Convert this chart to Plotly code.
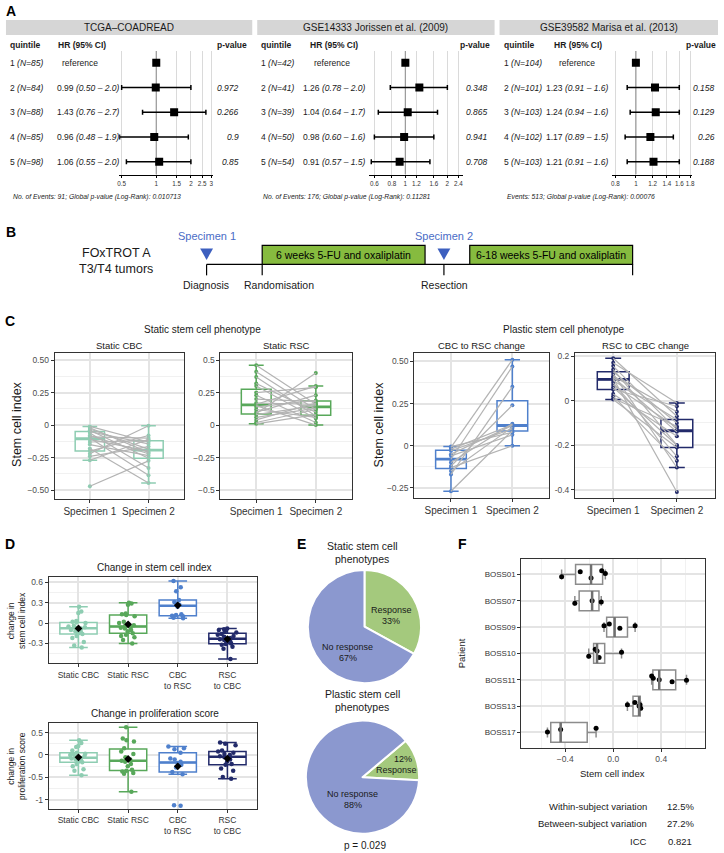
import numpy as np
import plotly.graph_objects as go

W, H = 724, 853
FONT = "Liberation Sans, Arial, Helvetica, sans-serif"
TXT = "#1a1a1a"
AXT = "#4d4d4d"

# ------------------------------------------------------------------ data
# Panel A (forest plots)
A_titles = ["TCGA–COADREAD", "GSE14333 Jorissen et al. (2009)", "GSE39582 Marisa et al. (2013)"]
A_quintile = [1, 2, 3, 4, 5]
tcga_n = [85, 84, 88, 85, 98]
tcga_hr = [1.0, 0.99, 1.43, 0.96, 1.06]
tcga_lo = [None, 0.50, 0.76, 0.48, 0.55]
tcga_hi = [None, 2.0, 2.7, 1.9, 2.0]
tcga_p = ["", "0.972", "0.266", "0.9", "0.85"]
g14_n = [42, 41, 39, 50, 54]
g14_hr = [1.0, 1.26, 1.04, 0.98, 0.91]
g14_lo = [None, 0.78, 0.64, 0.60, 0.57]
g14_hi = [None, 2.0, 1.7, 1.6, 1.5]
g14_p = ["", "0.348", "0.865", "0.941", "0.708"]
g39_n = [104, 101, 103, 102, 103]
g39_hr = [1.0, 1.23, 1.24, 1.17, 1.21]
g39_lo = [None, 0.91, 0.94, 0.89, 0.91]
g39_hi = [None, 1.6, 1.6, 1.5, 1.6]
g39_p = ["", "0.158", "0.129", "0.26", "0.188"]
A_ticks = [[0.5, 1, 1.5, 2, 2.5, 3], [0.6, 0.8, 1, 1.2, 1.6, 2, 2.4], [0.8, 1, 1.2, 1.4, 1.6, 1.8]]
A_footnotes = ["No. of Events: 91; Global p-value (Log-Rank): 0.010713",
               "No. of Events: 176; Global p-value (Log-Rank): 0.11281",
               "Events: 513; Global p-value (Log-Rank): 0.00076"]
REF_HR = 1.0

# Panel B
B_boxes = ["6 weeks 5-FU and oxaliplatin", "6-18 weeks 5-FU and oxaliplatin"]
B_events = ["Diagnosis", "Randomisation", "Resection"]
B_specimens = ["Specimen 1", "Specimen 2"]

# Panel C (paired stem cell index)
C_cats = ["Specimen 1", "Specimen 2"]
scbc_s1 = [-0.01, -0.02, -0.03, -0.04, -0.05, -0.06, -0.08, -0.09, -0.10, -0.11, -0.13, -0.15, -0.18, -0.20, -0.22, -0.24, -0.27, -0.47]
scbc_s2 = [-0.13, -0.21, -0.185, -0.255, -0.145, -0.33, -0.22, -0.10, -0.385, -0.20, -0.12, -0.235, -0.445, -0.08, -0.005, -0.165, -0.11, -0.275]
srsc_s1 = [0.46, 0.41, 0.37, 0.32, 0.30, 0.25, 0.23, 0.20, 0.17, 0.16, 0.15, 0.14, 0.12, 0.10, 0.09, 0.08, 0.06, 0.04, 0.02, 0.01]
srsc_s2 = [0.16, 0.12, 0.07, 0.10, 0.05, 0.29, 0.02, 0.18, 0.16, 0.30, 0.0, 0.19, 0.06, 0.23, 0.40, 0.15, 0.13, 0.17, 0.12, 0.08]
c2r_s1 = [-0.005, -0.01, -0.02, -0.03, -0.05, -0.06, -0.08, -0.10, -0.12, -0.13, -0.15, -0.17, -0.27]
c2r_s2 = [0.08, 0.51, 0.125, 0.10, 0.12, 0.065, 0.47, 0.13, 0.24, 0.0, 0.11, 0.35, 0.09]
r2c_s1 = [0.19, 0.17, 0.155, 0.14, 0.13, 0.12, 0.11, 0.105, 0.10, 0.09, 0.08, 0.07, 0.06, 0.05, 0.03, 0.02, 0.01, 0.005]
r2c_s2 = [-0.07, -0.01, -0.13, -0.2, -0.1, -0.3, -0.05, -0.14, -0.41, -0.085, -0.25, -0.12, -0.2, -0.025, -0.16, -0.27, -0.115, -0.21]
C_titles = ["Static CBC", "Static RSC", "CBC to RSC change", "RSC to CBC change"]
C_ticks = [[-0.5, -0.25, 0, 0.25, 0.5], [-0.5, -0.25, 0, 0.25, 0.5], [-0.25, 0, 0.25, 0.5], [-0.4, -0.2, 0, 0.2]]
C_ticktext = [["−0.50", "−0.25", "0", "0.25", "0.50"], ["−0.5", "−0.25", "0", "0.25", "0.5"],
              ["−0.25", "0", "0.25", "0.50"], ["-0.4", "-0.2", "0", "0.2"]]

# Panel D (changes)
D_cats = ["Static CBC", "Static RSC", "CBC to RSC", "RSC to CBC"]
D_ticktext = ["Static CBC", "Static RSC", "CBC<br>to RSC", "RSC<br>to CBC"]
dsci_scbc = [0.24, 0.17, 0.15, 0.03, 0.02, 0.01, 0.00, -0.04, -0.05, -0.06, -0.07, -0.08, -0.10, -0.12, -0.13, -0.15, -0.16, -0.19, -0.22, -0.28, -0.33, -0.36]
dsci_srsc = [0.30, 0.29, 0.27, 0.14, 0.13, 0.12, 0.10, 0.02, 0.00, -0.03, -0.04, -0.06, -0.07, -0.08, -0.10, -0.12, -0.15, -0.17, -0.19, -0.21, -0.25, -0.30]
dsci_c2r = [0.62, 0.53, 0.47, 0.34, 0.31, 0.29, 0.27, 0.24, 0.13, 0.12, 0.11, 0.10, 0.08, 0.07]
dsci_r2c = [-0.08, -0.09, -0.10, -0.12, -0.14, -0.16, -0.17, -0.19, -0.20, -0.22, -0.24, -0.25, -0.27, -0.28, -0.30, -0.31, -0.32, -0.35, -0.38, -0.53]
dpro_scbc = [0.33, 0.27, 0.20, 0.18, 0.10, 0.05, 0.03, 0.02, 0.00, -0.02, -0.05, -0.07, -0.08, -0.10, -0.12, -0.15, -0.16, -0.20, -0.25, -0.32, -0.35, -0.45]
dpro_srsc = [0.62, 0.37, 0.33, 0.30, 0.15, 0.08, 0.02, -0.05, -0.10, -0.13, -0.15, -0.20, -0.25, -0.33, -0.35, -0.37, -0.40, -0.42, -0.82]
dpro_c2r = [0.19, 0.15, 0.13, 0.05, -0.08, -0.10, -0.15, -0.18, -0.22, -0.28, -0.38, -0.43, -1.12, -1.13]
dpro_r2c = [0.28, 0.25, 0.22, 0.10, 0.08, 0.05, 0.02, 0.00, -0.03, -0.05, -0.10, -0.15, -0.20, -0.22, -0.30, -0.35, -0.49, -0.53]
D_titles = ["Change in stem cell index", "Change in proliferation score"]
D_ytitles = ["change in<br>stem cell index", "change in<br>proliferation score"]
D_ticks = [[-0.3, 0, 0.3, 0.6], [-1, -0.5, 0, 0.5]]
D_ticktext_y = [["-0.3", "0", "0.3", "0.6"], ["-1", "-0.5", "0", "0.5"]]

# Panel E (pies)
E_labels = ["Response", "No response"]
E_static = [33, 67]
E_plastic = [12, 88]
E_p = "p = 0.029"

# Panel F
F_patients = ["BOSS01", "BOSS07", "BOSS09", "BOSS10", "BOSS11", "BOSS13", "BOSS17"]
F_values = [
    [-0.43, -0.275, -0.185, -0.096, -0.066],
    [-0.32, -0.176, -0.10],
    [-0.077, -0.033, 0.055, 0.182],
    [-0.204, -0.15, -0.135, -0.118, 0.069],
    [0.32, 0.333, 0.383, 0.49, 0.61],
    [0.118, 0.18, 0.215, 0.223, 0.229],
    [-0.548, -0.438, -0.143],
]
F_ticks = [-0.4, 0.0, 0.4]
F_ticktext = ["−0.4", "0.0", "0.4"]
F_stats = [("Within-subject variation", "12.5%"), ("Between-subject variation", "27.2%"), ("ICC", "0.821")]

# colours
COL_SCBC = "#8ecdb2"
COL_SRSC = "#58a85a"
COL_C2R = "#4f80cc"
COL_R2C = "#222a6a"
COL_LINK = "#b3b3b3"
GREEN_B = "#86bb3f"
BLUE_B = "#3d5fbf"
PIE_GREEN = "#a4c97d"
PIE_BLUE = "#8b98cf"

# ------------------------------------------------------------------ helpers
def X(p): return p / W
def Y(p): return 1 - p / H
def DX(a, b): return [a / W, b / W]
def DY(top, bot): return [1 - bot / H, 1 - top / H]

def names(i):
    s = "" if i == 1 else str(i)
    return "x" + s, "y" + s, "xaxis" + s, "yaxis" + s

fig = go.Figure()
ann, shapes, lay = [], [], {}

def txt(px, py, text, size=9, color=TXT, xa="center", ya="middle", angle=0):
    ann.append(dict(x=X(px), y=Y(py), xref="paper", yref="paper", text=text, showarrow=False,
                    xanchor=xa, yanchor=ya, textangle=angle,
                    font=dict(size=size, color=color, family=FONT)))

def letter(px, py, s):
    txt(px, py, f"<b>{s}</b>", size=14, color="black")

def frame_axis(dom, **kw):
    d = dict(domain=dom, showline=True, mirror=True, linecolor="#333333", linewidth=1,
             ticks="outside", ticklen=3, tickcolor="#333333", tickwidth=1,
             showgrid=True, gridcolor="#e4e4e4", gridwidth=1.6, zeroline=False,
             tickfont=dict(size=8.5, color=AXT, family=FONT), fixedrange=True)
    d.update(kw)
    return d

def median_trace(xa, ya, pos, vals, half, color, width=2.8, horizontal=False):
    m = float(np.median(vals))
    if horizontal:
        xs, ys = [m, m], [pos - half, pos + half]
    else:
        xs, ys = [pos - half, pos + half], [m, m]
    fig.add_trace(go.Scatter(x=xs, y=ys, mode="lines", xaxis=xa, yaxis=ya,
                             line=dict(color=color, width=width), showlegend=False, hoverinfo="skip"))

MINOR = dict(showgrid=True, gridcolor="#f1f1f1", gridwidth=0.9)

# ------------------------------------------------------------------ Panel A
letter(9, 9, "A")
A_sets = [
    dict(n=tcga_n, hr=tcga_hr, lo=tcga_lo, hi=tcga_hi, p=tcga_p),
    dict(n=g14_n, hr=g14_hr, lo=g14_lo, hi=g14_hi, p=g14_p),
    dict(n=g39_n, hr=g39_hr, lo=g39_lo, hi=g39_hi, p=g39_p),
]
A_geom = [
    dict(strip=(4, 252), q=6, hr=53, hrh=54, ref=79, pv=241, ph=249, foot=9, dom=(118, 212.5), rng=(0.476, 3.115)),
    dict(strip=(257, 496), q=259, hr=301, hrh=308, ref=332, pv=491, ph=493, foot=261, dom=(370, 464), rng=(0.553, 2.58)),
    dict(strip=(501, 721), q=503, hr=546, hrh=554, ref=579, pv=720, ph=721, foot=507, dom=(614, 695), rng=(0.77, 1.84)),
]
Y_TOP, Y_BOT = 0.515, 5.525
for i, (ds, g, title, ticks, foot) in enumerate(zip(A_sets, A_geom, A_titles, A_ticks, A_footnotes), start=1):
    xa, ya, xk, yk = names(i)
    fig.add_trace(go.Scatter(x=[REF_HR, REF_HR], y=[Y_TOP, Y_BOT], mode="lines", xaxis=xa, yaxis=ya,
                             line=dict(color="#9a9a9a", width=1.2), showlegend=False, hoverinfo="skip"))
    plus = [(h - r) if h is not None else 0 for r, h in zip(ds["hr"], ds["hi"])]
    minus = [(r - l) if l is not None else 0 for r, l in zip(ds["hr"], ds["lo"])]
    fig.add_trace(go.Scatter(
        x=ds["hr"], y=A_quintile, mode="markers", xaxis=xa, yaxis=ya,
        marker=dict(symbol="square", size=8, color="black"),
        error_x=dict(type="data", symmetric=False, array=plus, arrayminus=minus,
                     color="black", thickness=1.5, width=2.5),
        showlegend=False, hoverinfo="skip"))
    lay[xk] = dict(domain=DX(*g["dom"]), anchor=ya, type="log",
                   range=[np.log10(g["rng"][0]), np.log10(g["rng"][1])],
                   tickmode="array", tickvals=ticks, ticktext=[f"{v:g}" for v in ticks], tickangle=0,
                   showgrid=True, gridcolor="#dadada", gridwidth=1, zeroline=False,
                   showline=True, linecolor="black", linewidth=0.8, ticks="outside",
                   ticklen=3, tickcolor="black", tickwidth=0.8,
                   tickfont=dict(size=6.3, color="#333333", family=FONT), fixedrange=True)
    lay[yk] = dict(domain=DY(49, 173), anchor=xa, range=[Y_BOT, Y_TOP], visible=False, fixedrange=True)
    shapes.append(dict(type="rect", xref="paper", yref="paper", x0=X(g["strip"][0]), x1=X(g["strip"][1]),
                       y0=Y(33), y1=Y(18), fillcolor="#d6d6d6", line=dict(width=0), layer="below"))
    txt((g["strip"][0] + g["strip"][1]) / 2, 25.5, title, size=10, color=TXT)
    txt(g["q"], 43, "<b>quintile</b>", size=8.5, xa="left")
    txt(g["hrh"], 43, "<b>HR (95% CI)</b>", size=8.5, xa="left")
    txt(g["ph"], 43, "<b>p-value</b>", size=8.5, xa="right")
    for q, n, hr, lo, hi, p in zip(A_quintile, ds["n"], ds["hr"], ds["lo"], ds["hi"], ds["p"]):
        ann.append(dict(x=X(g["q"]), y=q, xref="paper", yref=ya, showarrow=False, xanchor="left",
                        text=f"{q} <i>(N={n})</i>", font=dict(size=8.5, color=TXT, family=FONT)))
        if lo is None:
            ann.append(dict(x=X(g["ref"]), y=q, xref="paper", yref=ya, showarrow=False, xanchor="center",
                            text="reference", font=dict(size=8.5, color=TXT, family=FONT)))
        else:
            ann.append(dict(x=X(g["hr"]), y=q, xref="paper", yref=ya, showarrow=False, xanchor="left",
                            text=f"{hr:.2f} <i>({lo:.2f} – {hi:.1f})</i>",
                            font=dict(size=8.5, color=TXT, family=FONT)))
        if p:
            ann.append(dict(x=X(g["pv"]), y=q, xref="paper", yref=ya, showarrow=False, xanchor="right",
                            text=f"<i>{p}</i>", font=dict(size=8.5, color=TXT, family=FONT)))
    txt(g["foot"], 195, f"<i>{foot}</i>", size=6.8, xa="left")

# ------------------------------------------------------------------ Panel B
letter(9, 231, "B")
txt(115, 252, "FOxTROT A", size=12.5)
txt(115, 268, "T3/T4 tumors", size=12.5)
B_spec_x = [206, 445]
B_tick_x = [206, 262, 445, 635]
B_box_x = [(262, 426), (471, 635)]
shapes.append(dict(type="line", xref="paper", yref="paper", x0=X(206), x1=X(635), y0=Y(263), y1=Y(263),
                   line=dict(color="black", width=1.2)))
for tx in B_tick_x:
    shapes.append(dict(type="line", xref="paper", yref="paper", x0=X(tx), x1=X(tx), y0=Y(263), y1=Y(274),
                       line=dict(color="black", width=1.2)))
for (x0, x1), lab in zip(B_box_x, B_boxes):
    shapes.append(dict(type="rect", xref="paper", yref="paper", x0=X(x0), x1=X(x1), y0=Y(263), y1=Y(244),
                       fillcolor=GREEN_B, line=dict(color="black", width=1.2)))
    txt((x0 + x1) / 2, 253.5, lab, size=10.5, color="black")
for sx, lab in zip(B_spec_x, B_specimens):
    shapes.append(dict(type="path", xref="paper", yref="paper",
                       path=f"M {X(sx-6.5):.5f},{Y(247):.5f} L {X(sx+6.5):.5f},{Y(247):.5f} L {X(sx):.5f},{Y(258.5):.5f} Z",
                       fillcolor=BLUE_B, line=dict(width=0)))
    txt(sx, 235, lab, size=11, color="#4a6cc6")
txt(205, 284, B_events[0], size=10.5)
txt(279, 284, B_events[1], size=10.5)
txt(446, 284, B_events[2], size=10.5)

# ------------------------------------------------------------------ Panel C
letter(8, 320, "C")
txt(202, 328, "Static stem cell phenotype", size=10)
txt(566, 328, "Plastic stem cell phenotype", size=10)
C_geom = [
    dict(xd=(53, 183), yd=(352, 498), yr=(-0.567, 0.553), minor=[-0.375, -0.125, 0.125, 0.375]),
    dict(xd=(220, 352), yd=(352, 498), yr=(-0.567, 0.553), minor=[-0.375, -0.125, 0.125, 0.375]),
    dict(xd=(415, 551), yd=(352, 497), yr=(-0.309, 0.549), minor=[-0.125, 0.125, 0.375]),
    dict(xd=(577, 718), yd=(352, 497), yr=(-0.436, 0.213), minor=[-0.3, -0.1, 0.1]),
]
C_data = [(scbc_s1, scbc_s2, COL_SCBC), (srsc_s1, srsc_s2, COL_SRSC),
          (c2r_s1, c2r_s2, COL_C2R), (r2c_s1, r2c_s2, COL_R2C)]
C_pos = list(range(len(C_cats)))
for j, ((s1, s2, col), g, title, tv, tt) in enumerate(zip(C_data, C_geom, C_titles, C_ticks, C_ticktext)):
    i = 4 + j
    xa, ya, xk, yk = names(i)
    fig.add_trace(go.Box(x=[C_pos[0]] * len(s1) + [C_pos[1]] * len(s2), y=s1 + s2,
                         xaxis=xa, yaxis=ya, boxpoints="all", jitter=0, pointpos=0, width=0.5,
                         quartilemethod="linear", fillcolor="white",
                         line=dict(color=col, width=1.5), marker=dict(color=col, size=4),
                         showlegend=False, hoverinfo="skip"))
    for k, vals in zip(C_pos, [s1, s2]):
        median_trace(xa, ya, k, vals, 0.25, col)
    lx, ly = [], []
    for a, b in zip(s1, s2):
        lx += [C_pos[0], C_pos[1], None]
        ly += [a, b, None]
    fig.add_trace(go.Scatter(x=lx, y=ly, mode="lines", xaxis=xa, yaxis=ya,
                             line=dict(color=COL_LINK, width=1.2), showlegend=False, hoverinfo="skip"))
    lay[xk] = frame_axis(DX(*g["xd"]), anchor=ya, range=[-0.6, 1.6], tickmode="array",
                         tickvals=C_pos, ticktext=C_cats,
                         tickfont=dict(size=10, color="#333333", family=FONT))
    lay[yk] = frame_axis(DY(*g["yd"]), anchor=xa, range=list(g["yr"]), tickmode="array",
                         tickvals=tv, ticktext=tt, minor=dict(tickvals=g["minor"], **MINOR))
    txt((g["xd"][0] + g["xd"][1]) / 2, 344, title, size=9.5)
txt(15, 423, "Stem cell index", size=12.5, angle=-90)
txt(380, 423, "Stem cell index", size=12.5, angle=-90)

# ------------------------------------------------------------------ Panel D
letter(8, 543, "D")
D_sets = [[dsci_scbc, dsci_srsc, dsci_c2r, dsci_r2c], [dpro_scbc, dpro_srsc, dpro_c2r, dpro_r2c]]
D_cols = [COL_SCBC, COL_SRSC, COL_C2R, COL_R2C]
D_pos = list(range(len(D_cats)))
D_geom = [dict(yd=(576, 663), yr=(-0.595, 0.685), minor=[-0.45, -0.15, 0.15, 0.45], title_y=567),
          dict(yd=(723, 809), yr=(-1.207, 0.707), minor=[-0.75, -0.25, 0.25], title_y=713)]
for j, (sets, g, title, ytitle, tv, tt) in enumerate(zip(D_sets, D_geom, D_titles, D_ytitles, D_ticks, D_ticktext_y)):
    i = 8 + j
    xa, ya, xk, yk = names(i)
    for k, vals, col in zip(D_pos, sets, D_cols):
        fig.add_trace(go.Box(x=[k] * len(vals), y=vals, xaxis=xa, yaxis=ya, boxpoints="all",
                             jitter=0.55, pointpos=0, width=0.75, quartilemethod="linear",
                             fillcolor="white", line=dict(color=col, width=1.5),
                             marker=dict(color=col, size=4.5), showlegend=False, hoverinfo="skip"))
        median_trace(xa, ya, k, vals, 0.375, col, width=2.5)
    fig.add_trace(go.Scatter(x=D_pos, y=[float(np.mean(v)) for v in sets], mode="markers",
                             xaxis=xa, yaxis=ya, marker=dict(symbol="diamond", size=6, color="black"),
                             showlegend=False, hoverinfo="skip"))
    lay[xk] = frame_axis(DX(47, 257), anchor=ya, range=[-0.6, 3.6], tickmode="array",
                         tickvals=D_pos, ticktext=D_ticktext,
                         tickfont=dict(size=8.5, color="#333333", family=FONT))
    lay[yk] = frame_axis(DY(*g["yd"]), anchor=xa, range=list(g["yr"]), tickmode="array",
                         tickvals=tv, ticktext=tt, minor=dict(tickvals=g["minor"], **MINOR))
    txt(154, g["title_y"], title, size=10)
    txt(14, (g["yd"][0] + g["yd"][1]) / 2, ytitle, size=8.5, angle=-90)

# ------------------------------------------------------------------ Panel E
letter(302, 543, "E")
txt(363, 545, "Static stem cell", size=10.5)
txt(363, 558, "phenotypes", size=10.5)
txt(363, 694, "Plastic stem cell", size=10.5)
txt(363, 707, "phenotypes", size=10.5)
fig.add_trace(go.Pie(values=E_static, labels=E_labels, sort=False, direction="clockwise", rotation=0,
                     marker=dict(colors=[PIE_GREEN, PIE_BLUE], line=dict(color="white", width=2)),
                     textinfo="none", hoverinfo="skip", showlegend=False,
                     domain=dict(x=DX(308, 422), y=DY(569, 683))))
fig.add_trace(go.Pie(values=E_plastic, labels=E_labels, sort=False, direction="clockwise", rotation=50,
                     marker=dict(colors=[PIE_GREEN, PIE_BLUE], line=dict(color="white", width=2)),
                     textinfo="none", hoverinfo="skip", showlegend=False,
                     domain=dict(x=DX(306, 420), y=DY(720, 834))))
txt(392, 609, E_labels[0], size=9)
txt(392, 620, f"{E_static[0]}%", size=9)
txt(348, 647, E_labels[1], size=9)
txt(348, 658, f"{E_static[1]}%", size=9)
txt(404, 759, f"{E_plastic[0]}%", size=9)
txt(397, 770, E_labels[0], size=9)
txt(353, 794, E_labels[1], size=9)
txt(353, 805, f"{E_plastic[1]}%", size=9)
txt(366, 845, E_p, size=10)

# ------------------------------------------------------------------ Panel F
letter(464, 543, "F")
fx_vals, fy_pos = [], []
for k, vals in enumerate(F_values, start=1):
    fx_vals += vals
    fy_pos += [k] * len(vals)
fig.add_trace(go.Box(x=fx_vals, y=fy_pos, orientation="h", xaxis="x10", yaxis="y10", boxpoints=False,
                     width=0.75, quartilemethod="linear", fillcolor="white",
                     line=dict(color="#8c8c8c", width=1.5), showlegend=False, hoverinfo="skip"))
for k, vals in enumerate(F_values, start=1):
    median_trace("x10", "y10", k, vals, 0.375, "#6f6f6f", width=2.5, horizontal=True)
fig.add_trace(go.Box(x=fx_vals, y=fy_pos, orientation="h", xaxis="x10", yaxis="y10", boxpoints="all",
                     jitter=0.45, pointpos=0, width=0.75, quartilemethod="linear",
                     fillcolor="rgba(0,0,0,0)", line=dict(color="rgba(0,0,0,0)", width=0),
                     marker=dict(color="black", size=5), showlegend=False, hoverinfo="skip"))
lay["xaxis10"] = frame_axis(DX(523, 708), anchor="y10", range=[-0.765, 0.765], tickmode="array",
                            tickvals=F_ticks, ticktext=F_ticktext,
                            minor=dict(tickvals=[-0.6, -0.2, 0.2, 0.6], **MINOR))
lay["yaxis10"] = frame_axis(DY(558, 748), anchor="x10", range=[7.6, 0.4], tickmode="array",
                            tickvals=list(range(1, len(F_patients) + 1)), ticktext=F_patients,
                            tickfont=dict(size=8, color="#333333", family=FONT))
txt(615, 773, "Stem cell index", size=9.5)
txt(463, 653, "Patient", size=9.5, angle=-90)
for (lab, val), yy in zip(F_stats, [806, 823, 841]):
    txt(651, yy, lab, size=9.5, xa="right")
    txt(683, yy, val, size=9.5)

# ------------------------------------------------------------------ layout
fig.update_layout(width=W, height=H, margin=dict(l=0, r=0, t=0, b=0),
                  paper_bgcolor="white", plot_bgcolor="white", showlegend=False,
                  boxmode="overlay", annotations=ann, shapes=shapes,
                  font=dict(family=FONT, color=TXT), **lay)
fig.write_html("out.html", config={"displayModeBar": False},
               post_script="document.body.style.margin='0';document.body.style.overflow='hidden';")
